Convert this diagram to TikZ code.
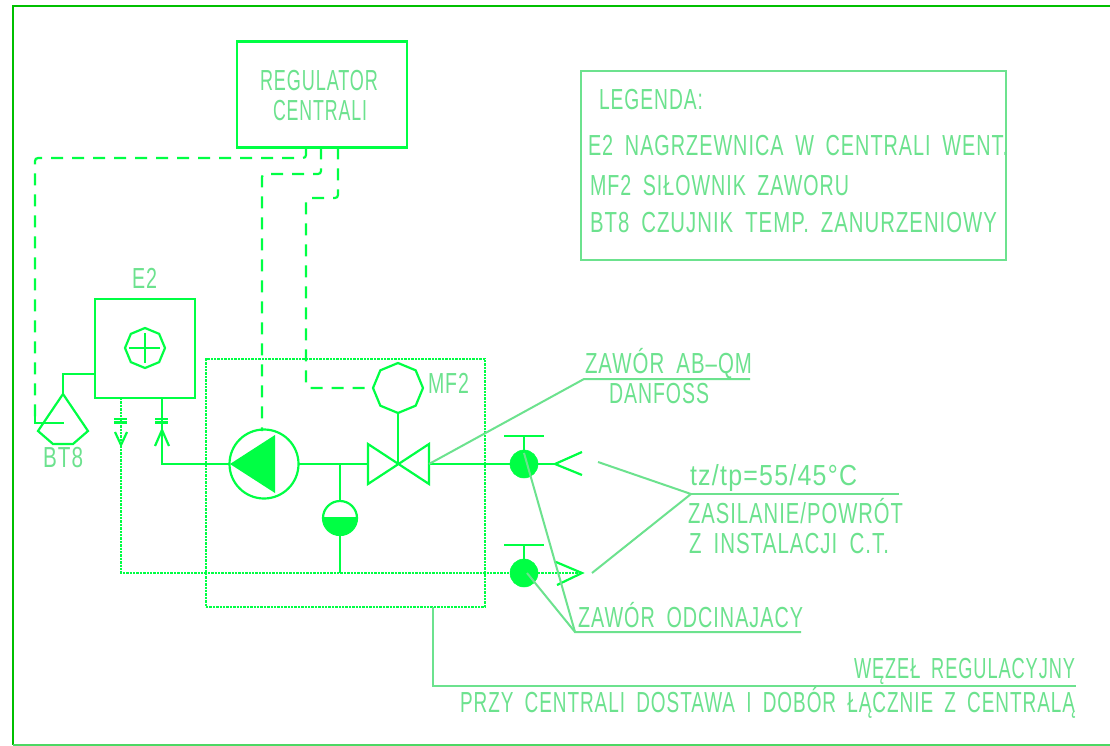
\documentclass[tikz,border=0pt]{standalone}
\usepackage{fontspec}
\usepackage{graphicx}
\setmainfont[LetterSpace=5,WordSpace=1.8]{Liberation Sans}
\usetikzlibrary{shapes.geometric}
\definecolor{linegreen}{HTML}{00FF44}
\definecolor{palegreen}{HTML}{6CE28E}
\definecolor{framegreen}{HTML}{00C000}
\newcommand{\fitw}[2]{\resizebox{#1pt}{\height}{\fontsize{29}{29}\selectfont #2}}
\tikzset{
  ln/.style={draw=linegreen,line width=2.2pt},
  dashln/.style={draw=linegreen,line width=2.2pt,dash pattern=on 12pt off 9pt,rounded corners=3pt},
  dotln/.style={draw=linegreen,line width=2.2pt,dash pattern=on 2.4pt off 1pt},
  pale/.style={draw=palegreen,line width=2pt},
  lab/.style={anchor=base west,inner sep=0pt,outer sep=0pt,text=palegreen},
  box/.style={rectangle,draw=linegreen,line width=2.2pt,inner sep=0pt,outer sep=0pt},
  ring/.style={circle,draw=linegreen,line width=2.2pt,inner sep=0pt,outer sep=0pt},
  ball/.style={circle,fill=linegreen,draw=linegreen,line width=0.5pt,inner sep=0pt,outer sep=0pt,minimum size=28pt},
  octa/.style={regular polygon,regular polygon sides=8,shape border rotate=22.5,draw=linegreen,line width=2.2pt,inner sep=0pt,outer sep=0pt},
}
\begin{document}
\begin{tikzpicture}[x=1pt,y=-1pt]
\useasboundingbox (0,0) rectangle (1110,746);
\fill[white] (0,0) rectangle (1110,746);
% frame
\coordinate (fTL) at (13,6);
\coordinate (fTR) at (1110,6);
\coordinate (fBL) at (13,745);
\coordinate (fBR) at (1110,745);
\draw[draw=framegreen,line width=2.2pt] (fTR) -- (fTL) -- (fBL);
\draw[draw=palegreen!70!framegreen,line width=2.2pt] (fBL) -- (fBR);
% main boxes
\node[box,minimum width=170pt,minimum height=106pt] (reg) at (322,94.5) {};
\node[box,draw=palegreen,minimum width=425pt,minimum height=189pt] (leg) at (793.5,165.5) {};
\node[box,minimum width=100pt,minimum height=99pt] (e2) at (145,348.5) {};
\node[box,dotln,minimum width=279pt,minimum height=248pt] (skid) at (345.5,483) {};
% symbols
\node[octa,minimum size=40pt] (heat) at (145,348) {};
\draw[ln] (129,348) -- (160,348) (145,333) -- (145,363);
\node[octa,minimum size=50pt] (mf2) at (398,388) {};
\node[ring,minimum size=69pt] (pump) at (264,464) {};
\node[ball] (v1) at (524,464) {};
\node[ball] (v2) at (524,573) {};
\node[ring,minimum size=34pt] (exp) at (340,518) {};
\fill[linegreen] (323,518) arc (180:0:17) -- cycle;
\draw[ln] (323,518) -- (357,518);
% named junctions
\coordinate (j1) at (340,464);
\coordinate (j2) at (340,573);
\coordinate (vc) at (398,464);
\coordinate (vl) at (368,464);
\coordinate (vr) at (429,464);
\coordinate (supEnd) at (555,464);
\coordinate (retEnd) at (582,573);
\coordinate (retL) at (121,573);
\coordinate (e2sup) at (162,398);
\coordinate (e2ret) at (121,398);
\coordinate (supL) at (162,464);
% control valve
\draw[ln,line join=miter] (368,444) -- (429,484) -- (429,444) -- (368,484) -- cycle;
\draw[ln] (mf2.south) -- (vc);
% pump triangle
\fill[linegreen] (230,464) -- (275,435) -- (275,493) -- cycle;
% pipes
\draw[ln] (e2sup) -- (supL) -- (pump.west);
\draw[ln] (pump.east) -- (vl);
\draw[ln] (vr) -- (v1.west);
\draw[ln] (v1.east) -- (supEnd);
\draw[ln] (j1) -- (exp.north);
\draw[ln] (exp.south) -- (j2);
\draw[dotln] (e2ret) -- (retL) -- (v2.west);
\draw[dotln] (v2.east) -- (retEnd);
% pipe ends
\draw[ln] (582,452) -- (supEnd) -- (582,475);
\draw[ln] (556,562) -- (retEnd) -- (557,585);
% shut-off handles
\coordinate (h1) at (524,436);
\coordinate (h2) at (524,545);
\draw[ln] (v1.north) -- (h1) (504,436) -- (544,436);
\draw[ln] (v2.north) -- (h2) (504,545) -- (544,545);
% ticks and arrows below E2
\draw[ln] (114,419) -- (127,419) (114,422.5) -- (127,422.5);
\draw[ln] (155,419) -- (168,419) (155,422.5) -- (168,422.5);
\draw[ln] (115,432) -- (121,445) -- (127,432);
\draw[ln] (155,446) -- (162,430) -- (169,446);
% sensor
\coordinate (bt) at (63,394);
\coordinate (btJ) at (63,374);
\draw[ln,line join=miter] (bt) -- (38,431) -- (53,444) -- (73,444) -- (88,431) -- cycle;
\draw[ln] (e2.west |- btJ) -- (btJ) -- (bt);
% control signals
\coordinate (c1b) at (306,147.5);
\coordinate (c2b) at (321,147.5);
\coordinate (c3b) at (338,147.5);
\coordinate (btK) at (35,423);
\coordinate (btS) at (64,423);
\draw[dashln] (c1b) -- (306,158) -- (35,158) -- (btK);
\draw[ln] (35,412) -- (btK) -- (btS);
\draw[dashln] (c2b) -- (321,174) -- (262,174) -- (262,431);
\draw[dashln] (c3b) -- (338,198) -- (306,198) -- (306,388) -- (mf2.west);
% leaders
\coordinate (l1) at (584,379);
\coordinate (l1e) at (750,379);
\draw[pale] (vr) -- (l1) -- (l1e);
\coordinate (l2) at (691,494);
\coordinate (l2e) at (899,494);
\draw[pale] (598,462) -- (l2) -- (592,573);
\draw[pale] (l2) -- (l2e);
\coordinate (l3) at (575,632);
\coordinate (l3e) at (801,632);
\draw[pale] (524,453) -- (l3) -- (l3e);
\draw[pale] (527,573) -- (l3);
\coordinate (l4a) at (433,607);
\coordinate (l4) at (433,686);
\coordinate (l4e) at (1076,686);
\draw[pale] (l4a) -- (l4) -- (l4e);
% texts
\node[lab] (t1) at (260,91) {\fitw{118}{REGULATOR}};
\node[lab] (t2) at (273,121) {\fitw{94}{CENTRALI}};
\node[lab] (t3) at (599,110) {\fitw{104}{LEGENDA:}};
\node[lab] (t4) at (588,156) {\fitw{420}{E2 NAGRZEWNICA W CENTRALI WENT.}};
\node[lab] (t5) at (590,195) {\fitw{259}{MF2 SIŁOWNIK ZAWORU}};
\node[lab] (t6) at (590,232) {\fitw{407}{BT8 CZUJNIK TEMP. ZANURZENIOWY}};
\node[lab] (t7) at (132,288) {\fitw{25}{E2}};
\node[lab] (t8) at (43,467) {\fitw{40}{BT8}};
\node[lab] (t9) at (428,393) {\fitw{41}{MF2}};
\node[lab] (t10) at (585,373) {\fitw{167}{ZAWÓR AB--QM}};
\node[lab] (t11) at (609,403) {\fitw{100}{DANFOSS}};
\node[lab] (t12) at (690,485) {\fitw{167}{tz/tp=55/45°C}};
\node[lab] (t13) at (688,523) {\fitw{215}{ZASILANIE/POWRÓT}};
\node[lab] (t14) at (689,553) {\fitw{200}{Z INSTALACJI C.T.}};
\node[lab] (t15) at (578,627) {\fitw{225}{ZAWÓR ODCINAJACY}};
\node[lab] (t16) at (854,678) {\fitw{221}{WĘZEŁ REGULACYJNY}};
\node[lab] (t17) at (460,712) {\fitw{615}{PRZY CENTRALI DOSTAWA I DOBÓR ŁĄCZNIE Z CENTRALĄ}};
\end{tikzpicture}
\end{document}
